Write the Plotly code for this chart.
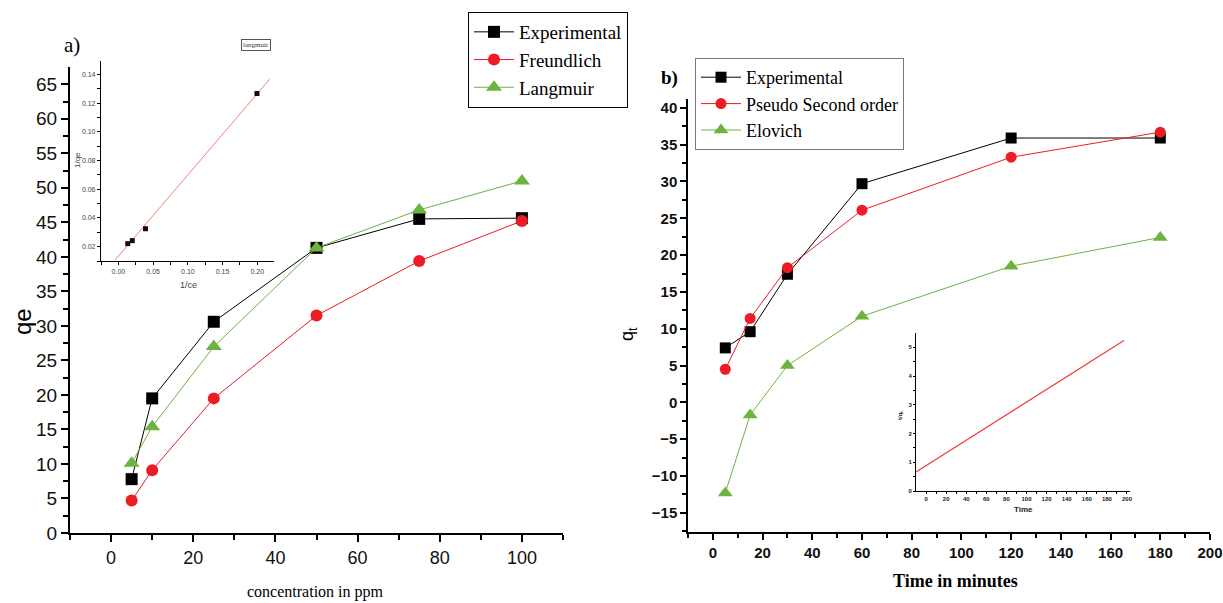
import plotly.graph_objects as go

W, H = 1223, 603

# ---- data: panel a (isotherms) ----
conc = [5, 10, 25, 50, 75, 100]
qe_exp = [7.8, 19.5, 30.6, 41.3, 45.5, 45.6]
qe_freundlich = [4.7, 9.1, 19.5, 31.5, 39.4, 45.2]
qe_langmuir = [10.1, 15.4, 27.0, 41.3, 46.8, 51.0]

# inset a: 1/ce vs 1/qe
inv_ce = [0.0135, 0.020, 0.039, 0.1995]
inv_qe = [0.0221, 0.0242, 0.0325, 0.1268]
fit_a_x = [-0.0047, 0.2177]
fit_a_y = [0.0107, 0.1368]

# ---- data: panel b (kinetics) ----
time_min = [5, 15, 30, 60, 120, 180]
qt_exp = [7.4, 9.6, 17.4, 29.7, 35.9, 35.9]
qt_pso = [4.5, 11.4, 18.3, 26.1, 33.3, 36.7]
qt_elovich = [-12.3, -1.7, 5.0, 11.7, 18.5, 22.4]

# inset b: t vs t/qt fit line
fit_b_x = [-10, 197]
fit_b_y = [0.66, 5.24]

BLACK = "#000000"
RED = "#ed1c24"
GREEN = "#6cb33f"


def px_x(p):
    return p / W


def px_y(p):
    return 1 - p / H


fig = go.Figure()

# panel a
fig.add_trace(go.Scatter(x=conc, y=qe_exp, mode="lines+markers", name="Experimental",
                         line=dict(color=BLACK, width=1),
                         marker=dict(symbol="square", size=12, color=BLACK),
                         xaxis="x", yaxis="y", legend="legend"))
fig.add_trace(go.Scatter(x=conc, y=qe_freundlich, mode="lines+markers", name="Freundlich",
                         line=dict(color=RED, width=1),
                         marker=dict(symbol="circle", size=12, color=RED),
                         xaxis="x", yaxis="y", legend="legend"))
fig.add_trace(go.Scatter(x=conc, y=qe_langmuir, mode="lines+markers", name="Langmuir",
                         line=dict(color=GREEN, width=1),
                         marker=dict(symbol="triangle-up", size=14, color=GREEN),
                         xaxis="x", yaxis="y", legend="legend"))

# panel b
fig.add_trace(go.Scatter(x=time_min, y=qt_exp, mode="lines+markers", name="Experimental",
                         line=dict(color=BLACK, width=1),
                         marker=dict(symbol="square", size=11, color=BLACK),
                         xaxis="x2", yaxis="y2", legend="legend2"))
fig.add_trace(go.Scatter(x=time_min, y=qt_pso, mode="lines+markers", name="Pseudo Second order",
                         line=dict(color=RED, width=1),
                         marker=dict(symbol="circle", size=11, color=RED),
                         xaxis="x2", yaxis="y2", legend="legend2"))
fig.add_trace(go.Scatter(x=time_min, y=qt_elovich, mode="lines+markers", name="Elovich",
                         line=dict(color=GREEN, width=1),
                         marker=dict(symbol="triangle-up", size=13, color=GREEN),
                         xaxis="x2", yaxis="y2", legend="legend2"))

# inset a
fig.add_trace(go.Scatter(x=fit_a_x, y=fit_a_y, mode="lines", showlegend=False,
                         line=dict(color="#f08080", width=1), xaxis="x3", yaxis="y3"))
fig.add_trace(go.Scatter(x=inv_ce, y=inv_qe, mode="markers", showlegend=False,
                         marker=dict(symbol="square", size=5, color="#1a0a0a"),
                         xaxis="x3", yaxis="y3"))

# inset b
fig.add_trace(go.Scatter(x=fit_b_x, y=fit_b_y, mode="lines", showlegend=False,
                         line=dict(color="#f03c3c", width=1.2), xaxis="x4", yaxis="y4"))

axis_common = dict(showgrid=False, zeroline=False, showline=True, linecolor=BLACK,
                   ticks="outside", tickcolor=BLACK, automargin=False)

BOLD_SANS = dict(family="Arial, Liberation Sans", weight="bold")

fig.update_layout(
    width=W, height=H,
    margin=dict(l=0, r=0, t=0, b=0),
    paper_bgcolor="white", plot_bgcolor="white",
    showlegend=True,
    xaxis=dict(**axis_common, domain=[px_x(70), px_x(563)], range=[-10, 110],
               anchor="y", linewidth=2, tickwidth=2, ticklen=7,
               tickvals=[0, 20, 40, 60, 80, 100],
               minor=dict(tickvals=[-10, 10, 30, 50, 70, 90, 110], ticklen=5, tickwidth=2, tickcolor=BLACK, ticks="outside"),
               tickfont=dict(family="Arial, Liberation Sans", size=18, color="#111")),
    yaxis=dict(**axis_common, domain=[px_y(533), px_y(67)], range=[0, 67.5],
               anchor="x", linewidth=2, tickwidth=2, ticklen=7,
               tickvals=list(range(0, 70, 5)),
               minor=dict(tickvals=[2.5 + 5 * i for i in range(13)], ticklen=5, tickwidth=2, tickcolor=BLACK, ticks="outside"),
               tickfont=dict(family="Arial, Liberation Sans", size=19, color="#111")),
    xaxis2=dict(**axis_common, domain=[px_x(688), px_x(1210)], range=[-10, 200],
                anchor="y2", linewidth=1.5, tickwidth=1.5, ticklen=6,
                tickvals=list(range(0, 201, 20)),
                minor=dict(tickvals=list(range(-10, 200, 20)), ticklen=4, tickwidth=1.5, tickcolor=BLACK, ticks="outside"),
                tickfont=dict(**BOLD_SANS, size=15, color="#111")),
    yaxis2=dict(**axis_common, domain=[px_y(532), px_y(99)], range=[-17.6, 41.2],
                anchor="x2", linewidth=1.5, tickwidth=1.5, ticklen=6,
                tickvals=list(range(-15, 41, 5)),
                minor=dict(tickvals=[-17.5 + 5 * i for i in range(12)], ticklen=4, tickwidth=1.5, tickcolor=BLACK, ticks="outside"),
                tickfont=dict(**BOLD_SANS, size=15, color="#111")),
    xaxis3=dict(**axis_common, domain=[px_x(101), px_x(274)], range=[-0.025, 0.224],
                anchor="y3", linewidth=1.2, tickwidth=1, ticklen=3,
                tickvals=[0.0, 0.05, 0.10, 0.15, 0.20], tickformat=".2f",
                minor=dict(tickvals=[-0.025, 0.025, 0.075, 0.125, 0.175, 0.225], ticklen=3, tickwidth=1, tickcolor=BLACK, ticks="outside"),
                tickfont=dict(family="Arial, Liberation Sans", size=7, color="#444")),
    yaxis3=dict(**axis_common, domain=[px_y(261), px_y(61)], range=[0.01, 0.1495],
                anchor="x3", linewidth=1.2, tickwidth=1, ticklen=3,
                tickvals=[0.02, 0.04, 0.06, 0.08, 0.10, 0.12, 0.14], tickformat=".2f",
                minor=dict(tickvals=[0.01, 0.03, 0.05, 0.07, 0.09, 0.11, 0.13], ticklen=3, tickwidth=1, tickcolor=BLACK, ticks="outside"),
                tickfont=dict(family="Arial, Liberation Sans", size=7, color="#444")),
    xaxis4=dict(**axis_common, domain=[px_x(916), px_x(1130)], range=[-10, 203],
                anchor="y4", linewidth=1, tickwidth=1, ticklen=2,
                tickvals=list(range(0, 201, 20)),
                minor=dict(tickvals=list(range(10, 200, 20)), ticklen=2, tickwidth=1, tickcolor=BLACK, ticks="outside"),
                tickfont=dict(**BOLD_SANS, size=6, color="#222")),
    yaxis4=dict(**axis_common, domain=[px_y(491), px_y(333)], range=[0, 5.5],
                anchor="x4", linewidth=1, tickwidth=1, ticklen=2,
                tickvals=[0, 1, 2, 3, 4, 5],
                minor=dict(tickvals=[0.5, 1.5, 2.5, 3.5, 4.5], ticklen=2, tickwidth=1, tickcolor=BLACK, ticks="outside"),
                tickfont=dict(**BOLD_SANS, size=6, color="#222")),
    legend=dict(x=px_x(468), y=px_y(12), xanchor="left", yanchor="top",
                bordercolor=BLACK, borderwidth=1, bgcolor="white",
                font=dict(family="Liberation Serif, Times New Roman, serif", size=19, color=BLACK),
                itemwidth=40, tracegroupgap=0),
    legend2=dict(x=px_x(695), y=px_y(58), xanchor="left", yanchor="top",
                 bordercolor="#777", borderwidth=1, bgcolor="white",
                 font=dict(family="Liberation Serif, Times New Roman, serif", size=18, color=BLACK),
                 itemwidth=40, tracegroupgap=0),
)


def label(text, x, y, size, family="Arial, Liberation Sans", angle=0, color=BLACK, **kw):
    return dict(text=text, x=px_x(x), y=px_y(y), xref="paper", yref="paper", showarrow=False,
                textangle=angle, xanchor="center", yanchor="middle",
                font=dict(family=family, size=size, color=color), **kw)


SERIF = "Liberation Serif, Times New Roman, serif"
ann = [
    label("a)", 72, 45, 21, SERIF),
    label("<b>b)</b>", 669, 78, 19, SERIF),
    label("qe", 22, 322, 24, angle=-90),
    label("concentration in ppm", 315, 592, 16, SERIF),
    label("<b>Time in minutes</b>", 955, 581, 18, SERIF),
    label("q<sub>t</sub>", 628, 334, 18, angle=-90),
    label("langmuir", 256, 45, 7, SERIF, color="#333", bordercolor="#555", borderwidth=1, borderpad=1),
    label("1/ce", 188, 285, 9, color="#444"),
    label("1/qe", 77, 160, 8, angle=-90, color="#444"),
    label("<b>Time</b>", 1023, 509, 8, color="#222"),
    label("<b>t/q<sub>t</sub></b>", 900, 416, 6, angle=-90, color="#222"),
]
fig.update_layout(annotations=ann)

fig.write_html("out.html",
               config={"displayModeBar": False},
               post_script="document.body.style.margin='0';document.body.style.overflow='hidden';")
